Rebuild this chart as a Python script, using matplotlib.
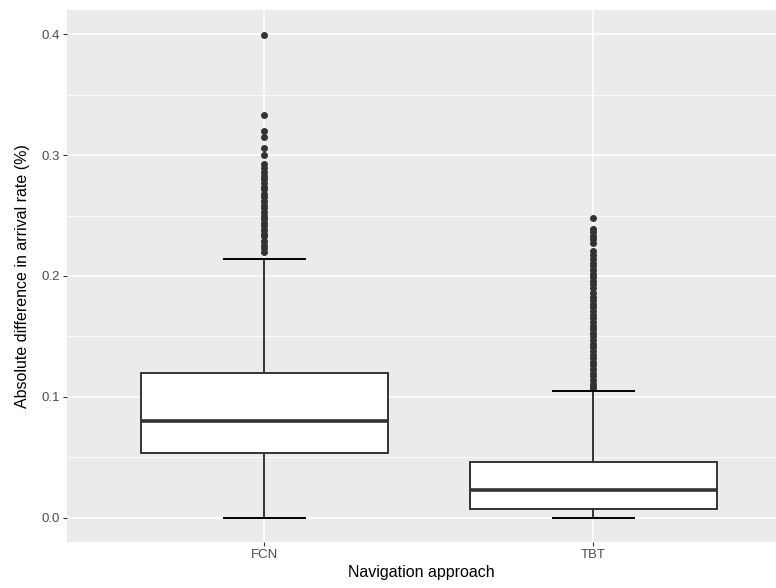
import matplotlib
matplotlib.use("Agg")
import matplotlib.pyplot as plt
from matplotlib.ticker import MultipleLocator

plt.rcParams['font.family'] = ['Liberation Sans', 'DejaVu Sans']

# categories and box statistics
approaches = ['FCN', 'TBT']
q1 = [0.0537, 0.0074]
median = [0.0799, 0.0228]
q3 = [0.1199, 0.0465]
whisker_low = [0.0, 0.0]
whisker_high = [0.2141, 0.1053]

fcn_outliers = [0.399, 0.333, 0.320, 0.315, 0.306, 0.300, 0.293, 0.289, 0.286,
                0.283, 0.280, 0.277, 0.274, 0.272, 0.268, 0.265, 0.262, 0.259,
                0.256, 0.253, 0.250, 0.247, 0.244, 0.241, 0.238, 0.235, 0.233,
                0.229, 0.226, 0.223, 0.220]
tbt_outliers = [0.248, 0.239, 0.236, 0.233, 0.231, 0.227, 0.221, 0.217, 0.214,
                0.211, 0.208, 0.205, 0.202, 0.199, 0.196, 0.193, 0.190, 0.186,
                0.183, 0.180, 0.177, 0.174, 0.171, 0.168, 0.165, 0.162, 0.159,
                0.156, 0.153, 0.150, 0.147, 0.144, 0.141, 0.138, 0.135, 0.132,
                0.129, 0.126, 0.123, 0.120, 0.117, 0.114, 0.111, 0.108, 0.107]
outliers = [fcn_outliers, tbt_outliers]

stats = []
for i, name in enumerate(approaches):
    stats.append({'label': name, 'q1': q1[i], 'med': median[i], 'q3': q3[i],
                  'whislo': whisker_low[i], 'whishi': whisker_high[i],
                  'fliers': outliers[i]})

fig = plt.figure(figsize=(7.76, 5.88), dpi=100)
ax = fig.add_axes([67 / 776, 46 / 588, 1 - 67 / 776, (542 - 10) / 588])
ax.set_facecolor('#EBEBEB')

# grid like ggplot's theme_grey
ax.yaxis.set_major_locator(MultipleLocator(0.1))
ax.yaxis.set_minor_locator(MultipleLocator(0.05))
ax.grid(which='major', color='white', linewidth=1.1)
ax.grid(which='minor', axis='y', color='white', linewidth=0.55)
ax.set_axisbelow(True)

box_col = '#333333'
ax.bxp(stats, positions=[1, 2], widths=0.75, patch_artist=True, showcaps=False,
       boxprops=dict(facecolor='white', edgecolor=box_col, linewidth=1.4),
       medianprops=dict(color=box_col, linewidth=2.6),
       whiskerprops=dict(color=box_col, linewidth=1.4),
       flierprops=dict(marker='o', markerfacecolor=box_col, markeredgecolor=box_col,
                       markersize=4.0, linestyle='none'),
       zorder=3)

# error-bar style caps
for i in range(len(approaches)):
    for v in (whisker_low[i], whisker_high[i]):
        ax.hlines(v, i + 1 - 0.125, i + 1 + 0.125, color='black', linewidth=1.4, zorder=4)

ax.set_xlim(0.4, 2.555)
ax.set_ylim(-0.02, 0.42)
ax.set_xticks([1, 2])
ax.set_xticklabels(approaches)
ax.set_yticks([0.0, 0.1, 0.2, 0.3, 0.4])
ax.set_yticklabels(['0.0', '0.1', '0.2', '0.3', '0.4'])
ax.tick_params(which='major', length=3, width=0.8, color='#333333',
               labelcolor='#4D4D4D', labelsize=9.5, pad=2)
ax.tick_params(which='minor', length=0)
for s in ax.spines.values():
    s.set_visible(False)

ax.set_xlabel('Navigation approach', fontsize=11.5, color='black', labelpad=3)
ax.set_ylabel('Absolute difference in arrival rate (%)', fontsize=11.5, color='black', labelpad=8)

fig.savefig('out.png', dpi=100)
